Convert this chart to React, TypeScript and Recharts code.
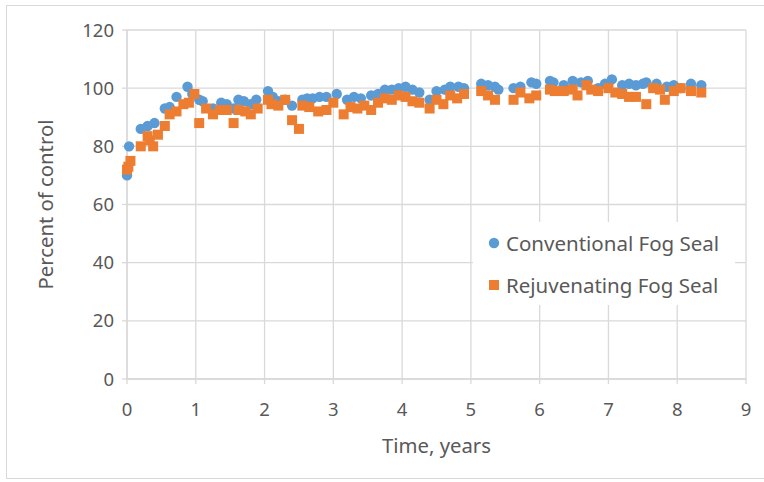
import React from "react";
import {
  ScatterChart,
  Scatter,
  XAxis,
  YAxis,
  CartesianGrid,
  Legend,
} from "recharts";

const conventionalTime = [
  0, 0.03, 0.2, 0.3, 0.4, 0.55, 0.62, 0.72, 0.88, 0.95, 1.05, 1.1, 1.25, 1.37,
  1.45, 1.55, 1.62, 1.7, 1.8, 1.88, 2.05, 2.12, 2.2, 2.3, 2.4, 2.55, 2.62, 2.7,
  2.8, 2.9, 3.05, 3.2, 3.3, 3.4, 3.55, 3.65, 3.75, 3.85, 3.95, 4.05, 4.15, 4.25,
  4.4, 4.5, 4.62, 4.7, 4.82, 4.9, 5.15, 5.25, 5.35, 5.4, 5.62, 5.72, 5.88, 5.95,
  6.15, 6.2, 6.35, 6.48, 6.6, 6.7, 6.85, 6.95, 7.05, 7.2, 7.3, 7.4, 7.5, 7.55,
  7.7, 7.85, 7.95, 8.05, 8.2, 8.35,
];
const conventionalValue = [
  70, 80, 86, 87, 88, 93, 93.5, 97, 100.5, 98, 96, 95.5, 93, 95, 94.5, 93, 96,
  95.5, 94.5, 96, 99, 97, 95.5, 96, 94, 96, 96.5, 96.5, 97, 97, 98, 96, 97,
  96.5, 97.5, 98, 99.5, 99.5, 100, 100.5, 99.5, 98.5, 96, 99, 99.5, 100.5,
  100.5, 100, 101.5, 101, 100.5, 99.5, 100, 100.5, 102, 101.5, 102.5, 102, 101,
  102.5, 102, 102.5, 100, 101.5, 103, 101, 101.5, 101, 101.5, 102, 101.5,
  100.5, 101, 100, 101.5, 101,
];

const rejuvenatingTime = [
  0, 0.02, 0.05, 0.2, 0.3, 0.33, 0.38, 0.45, 0.55, 0.62, 0.72, 0.82, 0.9, 0.98,
  1.05, 1.15, 1.25, 1.35, 1.45, 1.55, 1.62, 1.72, 1.8, 1.9, 2.05, 2.1, 2.2, 2.3,
  2.4, 2.5, 2.55, 2.65, 2.78, 2.9, 3.0, 3.15, 3.25, 3.35, 3.45, 3.55, 3.65,
  3.75, 3.85, 3.95, 4.05, 4.15, 4.25, 4.4, 4.5, 4.6, 4.7, 4.8, 4.9, 5.15, 5.25,
  5.35, 5.62, 5.72, 5.85, 5.95, 6.15, 6.22, 6.35, 6.48, 6.55, 6.68, 6.75, 6.85,
  7.0, 7.1, 7.2, 7.3, 7.4, 7.55, 7.65, 7.75, 7.82, 7.95, 8.05, 8.2, 8.35,
];
const rejuvenatingValue = [
  72, 73, 75, 80, 83.5, 82, 80, 84, 87, 91, 92, 94.5, 95, 98, 88, 93, 91, 92.5,
  92.5, 88, 92.5, 92, 91, 93, 96, 94.5, 94, 96, 89, 86, 94, 93.5, 92, 92.5, 95,
  91, 93.5, 93, 94, 92.5, 95, 96.5, 96, 97.5, 97, 95.5, 95, 93, 96, 94.5, 97.5,
  96.5, 98, 99, 97.5, 96, 96, 98.5, 96.5, 97.5, 99.5, 99, 99, 99.5, 97.5, 101,
  99.5, 99, 100, 98.5, 98, 97, 97, 94.5, 100, 99.5, 96, 99, 100, 99, 98.5,
];

const xTicks = [0, 1, 2, 3, 4, 5, 6, 7, 8, 9];
const yTicks = [0, 20, 40, 60, 80, 100, 120];

const seriesNames = ["Conventional Fog Seal", "Rejuvenating Fog Seal"];
const seriesColors = ["#5B9BD5", "#ED7D31"];

const conventionalData = conventionalTime.map((t, i) => ({
  t,
  v: conventionalValue[i],
}));
const rejuvenatingData = rejuvenatingTime.map((t, i) => ({
  t,
  v: rejuvenatingValue[i],
}));

const FONT = "'Noto Sans', 'Open Sans', sans-serif";
const TEXT = "#595959";
const GRID = "#d9d9d9";

const Circle = (props: any) => {
  const { cx, cy } = props;
  if (cx == null || cy == null) return null;
  return <circle cx={cx} cy={cy} r={5.2} fill={seriesColors[0]} />;
};
const Square = (props: any) => {
  const { cx, cy } = props;
  if (cx == null || cy == null) return null;
  return <rect x={cx - 5} y={cy - 5} width={10} height={10} fill={seriesColors[1]} />;
};

const LegendContent = () => (
  <div
    style={{
      background: "#fff",
      width: 262,
      height: 83,
      fontFamily: FONT,
      fontSize: 20.5,
      color: TEXT,
      position: "relative",
    }}
  >
    {seriesNames.map((name, i) => (
      <div
        key={name}
        style={{
          position: "absolute",
          left: 14,
          top: i === 0 ? 6 : 48,
          display: "flex",
          alignItems: "center",
          whiteSpace: "nowrap",
          lineHeight: "30px",
        }}
      >
        <svg width={14} height={14} style={{ marginRight: 5 }}>
          {i === 0 ? (
            <circle cx={7} cy={7} r={5.2} fill={seriesColors[0]} />
          ) : (
            <rect x={2} y={2} width={10} height={10} fill={seriesColors[1]} />
          )}
        </svg>
        <span>{name}</span>
      </div>
    ))}
  </div>
);

export default function App() {
  return (
    <div
      style={{
        position: "absolute",
        left: 0,
        top: 0,
        width: 764,
        height: 482,
        background: "#fff",
      }}
    >
      <div
        style={{
          position: "absolute",
          left: 6,
          top: 5,
          width: 760,
          height: 474,
          border: "1px solid #d9d9d9",
          boxSizing: "border-box",
        }}
      />
      <div style={{ position: "absolute", left: 0, top: 0 }}>
        <ScatterChart
          width={764}
          height={482}
          margin={{ top: 30, right: 18, bottom: 0, left: 0 }}
        >
          <CartesianGrid stroke={GRID} strokeWidth={1.3} />
          <XAxis
            type="number"
            dataKey="t"
            domain={[0, 9]}
            ticks={xTicks}
            interval={0}
            height={103}
            stroke={GRID}
            strokeWidth={1.3}
            tickSize={5}
            tickMargin={19}
            tick={{ fill: TEXT, fontFamily: FONT, fontSize: 18.5 }}
            label={{
              value: "Time, years",
              position: "insideBottom",
              offset: 29,
              fill: TEXT,
              fontFamily: FONT,
              fontSize: 20.3,
            }}
          />
          <YAxis
            type="number"
            dataKey="v"
            domain={[0, 120]}
            ticks={yTicks}
            interval={0}
            width={127}
            stroke={GRID}
            strokeWidth={1.3}
            tickSize={5}
            tickMargin={8}
            tick={{ fill: TEXT, fontFamily: FONT, fontSize: 18.5 }}
            label={{
              value: "Percent of control",
              angle: -90,
              position: "insideLeft",
              offset: 46,
              style: { textAnchor: "middle" },
              fill: TEXT,
              fontFamily: FONT,
              fontSize: 20.3,
            }}
          />
          <Legend
            layout="horizontal"
            verticalAlign="middle"
            align="center"
            wrapperStyle={{ left: 473, top: 222, width: 262, height: 83 }}
            content={<LegendContent />}
          />
          <Scatter
            name={seriesNames[0]}
            data={conventionalData}
            fill={seriesColors[0]}
            shape={<Circle />}
            isAnimationActive={false}
          />
          <Scatter
            name={seriesNames[1]}
            data={rejuvenatingData}
            fill={seriesColors[1]}
            shape={<Square />}
            isAnimationActive={false}
          />
        </ScatterChart>
      </div>
    </div>
  );
}
